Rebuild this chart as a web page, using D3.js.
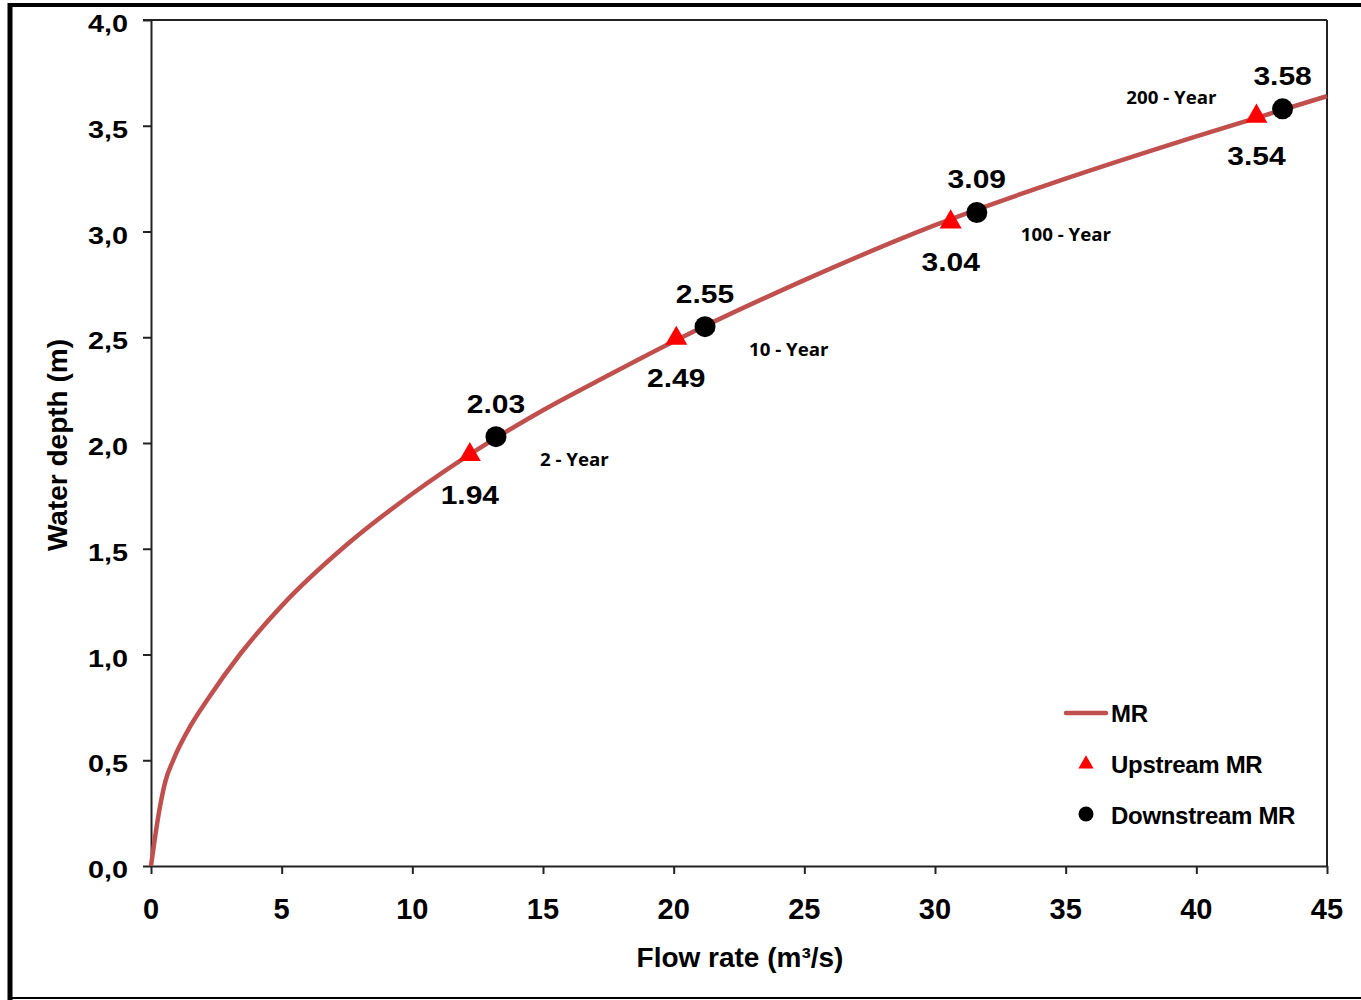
<!DOCTYPE html>
<html><head><meta charset="UTF-8">
<title>Water depth vs flow rate</title>
<script src="https://d3js.org/d3.v7.min.js"></script>
<style>
  body { margin: 0; background: #fff; }
  text { font-family: "Liberation Sans", Arial, sans-serif; font-weight: bold; fill: #000; }
  .yr { font-family: "Open Sans", sans-serif; }
</style>
</head>
<body>
<svg width="1361" height="1000"></svg>
<script>
  // rating curve MR
  const flow  = [0, 0.3, 0.55, 0.85, 1.5, 2.15, 3.4, 5, 7.5, 10, 12.5, 15, 17.5, 20, 25, 30, 35, 40, 45]
  const depth = [0, 0.25, 0.40, 0.50, 0.66, 0.785, 1.0, 1.23, 1.52, 1.76, 1.97, 2.155, 2.32, 2.48, 2.77, 3.03, 3.25, 3.45, 3.64]

  // measured points
  const upFlow    = [12.2, 20.1, 30.6, 42.3]
  const upDepth   = [1.94, 2.49, 3.04, 3.54]
  const downFlow  = [13.2, 21.2, 31.6, 43.3]
  const downDepth = [2.03, 2.55, 3.09, 3.58]
  const periods   = ["2 - Year", "10 - Year", "100 - Year", "200 - Year"]

  const xTicks = [0, 5, 10, 15, 20, 25, 30, 35, 40, 45]
  const yTicks = [0, 0.5, 1, 1.5, 2, 2.5, 3, 3.5, 4]

  const svg = d3.select("svg")

  // outer frame
  svg.append("line").attr("x1", 8).attr("x2", 1361).attr("y1", 5).attr("y2", 5)
     .attr("stroke", "#000").attr("stroke-width", 4)
  svg.append("line").attr("x1", 10).attr("x2", 10).attr("y1", 3).attr("y2", 1000)
     .attr("stroke", "#000").attr("stroke-width", 5)
  svg.append("line").attr("x1", 8).attr("x2", 1361).attr("y1", 998).attr("y2", 998)
     .attr("stroke", "#000").attr("stroke-width", 2)

  const x = d3.scaleLinear().domain([0, 45]).range([151, 1327])
  const y = d3.scaleLinear().domain([0, 4]).range([866, 20])

  // plot box (top and right)
  svg.append("line").attr("x1", 143).attr("x2", 1327).attr("y1", y(4)).attr("y2", y(4))
     .attr("stroke", "#222").attr("stroke-width", 2)
  svg.append("line").attr("x1", 1327).attr("x2", 1327).attr("y1", y(4)).attr("y2", y(0))
     .attr("stroke", "#222").attr("stroke-width", 2)

  // axes
  svg.append("g").attr("transform", "translate(0," + y(0) + ")")
    .call(d3.axisBottom(x).tickValues(xTicks).tickSize(8).tickSizeOuter(0).tickFormat(""))
  svg.append("g").attr("transform", "translate(" + x(0) + ",0)")
    .call(d3.axisLeft(y).tickValues(yTicks).tickSize(8).tickSizeOuter(0).tickFormat(""))
  svg.selectAll(".domain, .tick line").attr("stroke", "#222").attr("stroke-width", 2)

  // tick labels
  svg.selectAll(".xlab").data(xTicks).join("text")
    .attr("x", d => x(d)).attr("y", y(0) + 53)
    .attr("text-anchor", "middle").style("font-size", "29px")
    .text(d => d)

  const fmt = d => d3.format(".1f")(d).replace(".", ",")
  svg.selectAll(".ylab").data(yTicks).join("text")
    .attr("transform", d => "translate(128," + (y(d) + 12) + ") scale(1.2,1)")
    .attr("text-anchor", "end").style("font-size", "24px")
    .text(fmt)

  // axis titles
  svg.append("text").attr("x", 740).attr("y", 967).attr("text-anchor", "middle")
    .style("font-size", "28px").text("Flow rate (m³/s)")
  svg.append("text").attr("transform", "translate(67,445) rotate(-90)").attr("text-anchor", "middle")
    .style("font-size", "28px").text("Water depth (m)")

  // MR curve
  const curve = flow.map((f, i) => [f, depth[i]])
  const line = d3.line().x(d => x(d[0])).y(d => y(d[1])).curve(d3.curveMonotoneX)
  svg.append("path").datum(curve).attr("d", line)
    .attr("fill", "none").attr("stroke", "#C0504D").attr("stroke-width", 4.5)

  // upstream triangles
  const tri = d3.symbol().type(d3.symbolTriangle).size(210)
  svg.selectAll(".up").data(upFlow).join("path")
    .attr("d", tri)
    .attr("transform", (d, i) => "translate(" + x(d) + "," + (y(upDepth[i]) - 1) + ")")
    .attr("fill", "#FF0000")

  // downstream circles
  svg.selectAll(".down").data(downFlow).join("circle")
    .attr("cx", d => x(d)).attr("cy", (d, i) => y(downDepth[i])).attr("r", 10.5)
    .attr("fill", "#000")

  // value labels
  svg.selectAll(".uplab").data(upFlow).join("text")
    .attr("transform", (d, i) => "translate(" + x(d) + "," + (y(upDepth[i]) + 48) + ") scale(1.2,1)")
    .attr("text-anchor", "middle").style("font-size", "25px")
    .text((d, i) => upDepth[i].toFixed(2))
  svg.selectAll(".downlab").data(downFlow).join("text")
    .attr("transform", (d, i) => "translate(" + x(d) + "," + (y(downDepth[i]) - 24) + ") scale(1.2,1)")
    .attr("text-anchor", "middle").style("font-size", "25px")
    .text((d, i) => downDepth[i].toFixed(2))

  // return period labels: beside the circle, last one placed up-left
  svg.selectAll(".yr").data(periods).join("text")
    .attr("class", "yr")
    .attr("transform", (d, i) => {
      const cx = x(downFlow[i]), cy = y(downDepth[i])
      return i < 3 ? "translate(" + (cx + 44) + "," + (cy + 29) + ") scale(1.1,1)"
                   : "translate(" + (cx - 66) + "," + (cy - 5) + ") scale(1.1,1)"
    })
    .attr("text-anchor", (d, i) => i < 3 ? "start" : "end")
    .style("font-size", "17px")
    .text(d => d)

  // legend
  const lg = svg.append("g")
  lg.append("line").attr("x1", 1066).attr("x2", 1106).attr("y1", 713).attr("y2", 713)
    .attr("stroke", "#C0504D").attr("stroke-width", 4.5).attr("stroke-linecap", "round")
  lg.append("path").attr("d", d3.symbol().type(d3.symbolTriangle).size(100))
    .attr("transform", "translate(1086,764)").attr("fill", "#FF0000")
  lg.append("circle").attr("cx", 1086).attr("cy", 814).attr("r", 7.5).attr("fill", "#000")
  lg.selectAll("text").data(["MR", "Upstream MR", "Downstream MR"]).join("text")
    .attr("x", 1111).attr("y", (d, i) => 722 + i * 51)
    .style("font-size", "24px").style("letter-spacing", "-0.3px")
    .text(d => d)
</script>
</body></html>
